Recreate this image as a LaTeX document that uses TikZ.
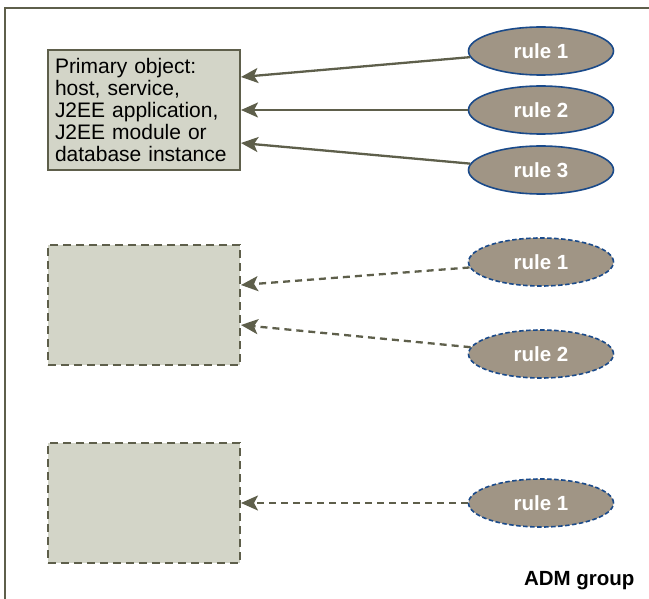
\documentclass[tikz,border=0pt]{standalone}
\usepackage{fontspec}
\setmainfont{Liberation Sans}
\usetikzlibrary{shapes.geometric,arrows.meta}
\definecolor{boxfill}{HTML}{D3D5C8}
\definecolor{olive}{HTML}{5E5F4B}
\definecolor{ellfill}{HTML}{A09585}
\definecolor{ellline}{HTML}{1A4A8A}
\tikzset{
  prim/.style={draw=olive,line width=2.3pt,fill=boxfill,minimum width=192pt,minimum height=120pt,inner sep=0pt},
  ghost/.style={prim,dash pattern=on 8pt off 5pt},
  rulenode/.style={ellipse,draw=ellline,line width=1.6pt,fill=ellfill,minimum width=145pt,minimum height=48pt,inner sep=0pt,text=white,font=\bfseries\fontsize{20.5}{22}\selectfont},
  druleno/.style={rulenode,dash pattern=on 4.5pt off 2.5pt},
  conn/.style={draw=olive,line width=2.3pt,-{Stealth[length=17pt,width=15pt,inset=4pt]}},
  dconn/.style={conn,dash pattern=on 7pt off 5pt}
}
\begin{document}
\begin{tikzpicture}[x=1pt,y=-1pt]
\useasboundingbox (0,0) rectangle (649,599);
\draw[olive,line width=2pt] (5,605) -- (5,8) -- (655,8);
% group 1
\node[prim,align=left,text width=178pt,font=\fontsize{21}{22}\selectfont] (p1) at (144,110) {Primary object:\\host, service,\\J2EE application,\\J2EE module or\\database instance};
\node[rulenode] (r11) at (541,51) {rule 1};
\node[rulenode] (r12) at (541,110) {rule 2};
\node[rulenode] (r13) at (541,170) {rule 3};
\coordinate (a11) at (241,77);
\coordinate (a12) at (241,110);
\coordinate (a13) at (241,143);
\draw[conn] (r11) -- (a11);
\draw[conn] (r12) -- (a12);
\draw[conn] (r13) -- (a13);
% group 2
\node[ghost] (p2) at (144,305) {};
\node[druleno] (r21) at (541,262) {rule 1};
\node[druleno] (r22) at (541,354) {rule 2};
\coordinate (a21) at (241,285);
\coordinate (a22) at (241,325);
\draw[dconn] (r21) -- (a21);
\draw[dconn] (r22) -- (a22);
% group 3
\node[ghost] (p3) at (144,503) {};
\node[druleno] (r31) at (541,503) {rule 1};
\coordinate (a31) at (241,503);
\draw[dconn] (r31) -- (a31);
\node[font=\bfseries\fontsize{20.5}{22}\selectfont,anchor=east] (adm) at (638,581) {ADM group};
\end{tikzpicture}
\end{document}
